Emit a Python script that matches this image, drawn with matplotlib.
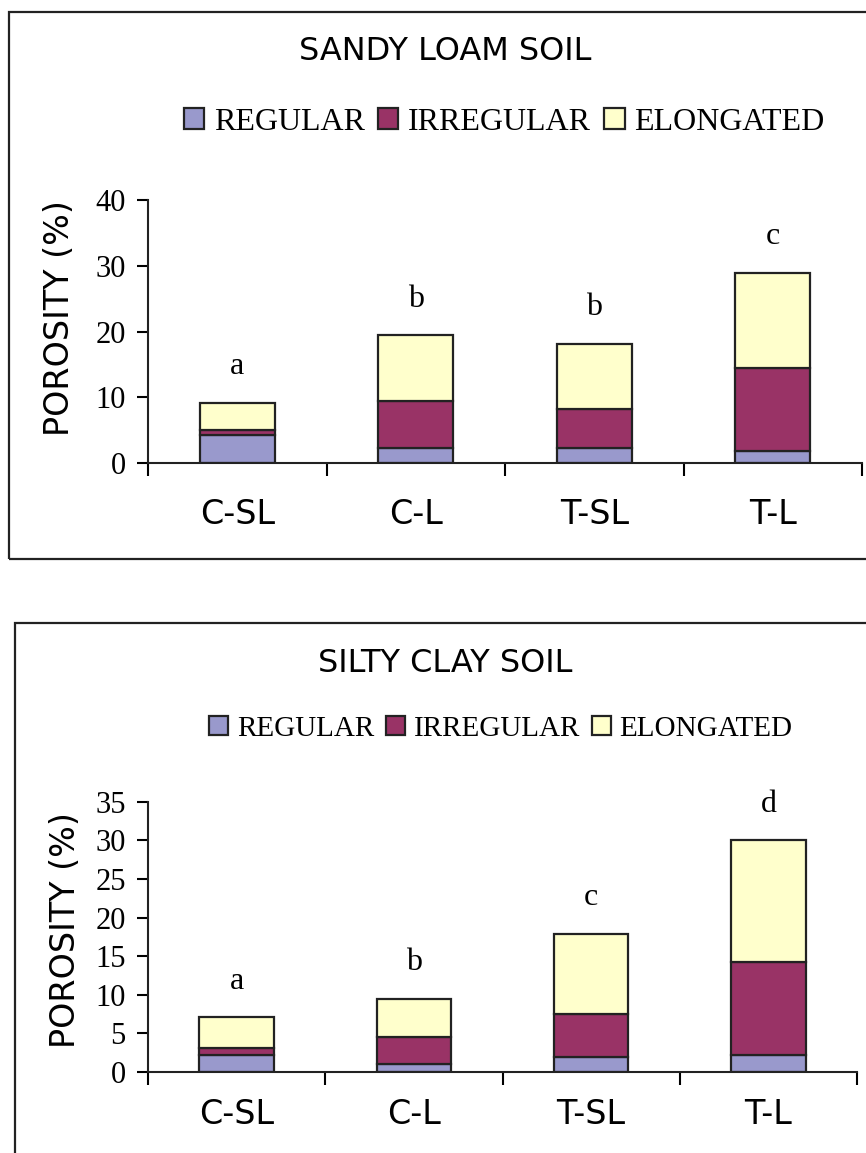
import numpy as np
import matplotlib
matplotlib.use("Agg")
import matplotlib.pyplot as plt
from matplotlib.patches import Rectangle

# data (porosity %, stacked)
categories = ["C-SL", "C-L", "T-SL", "T-L"]
series_names = ["REGULAR", "IRREGULAR", "ELONGATED"]

sandy_regular = [4.2, 2.3, 2.3, 1.9]
sandy_irregular = [0.8, 7.2, 5.9, 12.5]
sandy_elongated = [4.2, 9.9, 9.9, 14.5]
sandy_letters = ["a", "b", "b", "c"]

silty_regular = [2.2, 1.1, 2.0, 2.2]
silty_irregular = [0.9, 3.4, 5.5, 12.1]
silty_elongated = [4.0, 5.0, 10.4, 15.7]
silty_letters = ["a", "b", "c", "d"]

colors = ["#9999CC", "#993366", "#FFFFCC"]
narrow = ["Liberation Sans Narrow", "DejaVu Sans"]
serif = ["Liberation Serif", "DejaVu Serif"]

W, H = 866, 1153
fig = plt.figure(figsize=(W / 100, H / 100), dpi=100)


def px(x, y):
    return x / W, 1 - y / H


def panel(rect, title, title_xy, legend_xy, legend_fs, regular, irregular, elongated,
          letters, ymax, ystep, xlab_pad, ylabel_xy):
    ax = fig.add_axes(rect)
    x = np.arange(len(categories))
    bottom = np.zeros(len(categories))
    handles = []
    for vals, c, name in zip([regular, irregular, elongated], colors, series_names):
        b = ax.bar(x, vals, 0.42, bottom=bottom, color=c, edgecolor="#222222",
                   linewidth=1.6, label=name)
        handles.append(b)
        bottom = bottom + np.array(vals)
    for xi, top, lab in zip(x, bottom, letters):
        ax.annotate(lab, (xi, top), xytext=(0, 26), textcoords="offset points",
                    ha="center", va="center", fontsize=23, family=serif)
    ax.set_xlim(-0.5, len(categories) - 0.5)
    ax.set_ylim(0, ymax)
    ax.set_yticks(np.arange(0, ymax + 0.1, ystep))
    ax.set_yticklabels([f"{v:g}" for v in np.arange(0, ymax + 0.1, ystep)],
                       family=serif, fontsize=22)
    ax.set_xticks(x)
    ax.set_xticklabels(categories, family=narrow, fontsize=24)
    ax.set_xticks(np.arange(len(categories) + 1) - 0.5, minor=True)
    ax.tick_params(axis="x", which="major", length=0, pad=xlab_pad)
    ax.tick_params(axis="x", which="minor", length=9, width=1.5, direction="out")
    ax.tick_params(axis="y", length=8, width=1.5, pad=8)
    for s in ["top", "right"]:
        ax.spines[s].set_visible(False)
    for s in ["left", "bottom"]:
        ax.spines[s].set_linewidth(1.5)
        ax.spines[s].set_color("#222222")
    ax.set_ylabel("POROSITY (%)", family=narrow, fontsize=24)
    ax.yaxis.set_label_coords(*ylabel_xy, transform=fig.transFigure)
    fig.text(*title_xy, title, family=narrow, fontsize=23, ha="center", va="center")
    fig.legend(handles, series_names, loc="center", bbox_to_anchor=legend_xy,
               ncol=3, frameon=False, prop={"family": serif, "size": legend_fs},
               handlelength=0.65, handleheight=0.65, handletextpad=0.3,
               columnspacing=0.4, borderaxespad=0)
    return ax


# top panel: sandy loam
l, b = px(148, 463)
r, t = px(862, 200)
panel([l, b, r - l, t - b], "SANDY LOAM SOIL", px(445, 51), px(504, 122), 23,
      sandy_regular, sandy_irregular, sandy_elongated, sandy_letters, 40, 10, 25,
      px(76, 318))

# bottom panel: silty clay
l, b = px(148, 1072)
r, t = px(857, 801.7)
panel([l, b, r - l, t - b], "SILTY CLAY SOIL", px(445, 663), px(501, 729), 21,
      silty_regular, silty_irregular, silty_elongated, silty_letters, 35, 5, 19,
      px(82, 930))

# panel frames
x0, y0 = px(8.5, 559.3)
x1, y1 = px(900, 12.3)
fig.add_artist(Rectangle((x0, y0), x1 - x0, y1 - y0, transform=fig.transFigure,
                         fill=False, edgecolor="#222222", linewidth=1.6))
x0, y0 = px(15, 1200)
x1, y1 = px(900, 623.3)
fig.add_artist(Rectangle((x0, y0), x1 - x0, y1 - y0, transform=fig.transFigure,
                         fill=False, edgecolor="#222222", linewidth=1.6))

fig.savefig("out.png", dpi=100)
